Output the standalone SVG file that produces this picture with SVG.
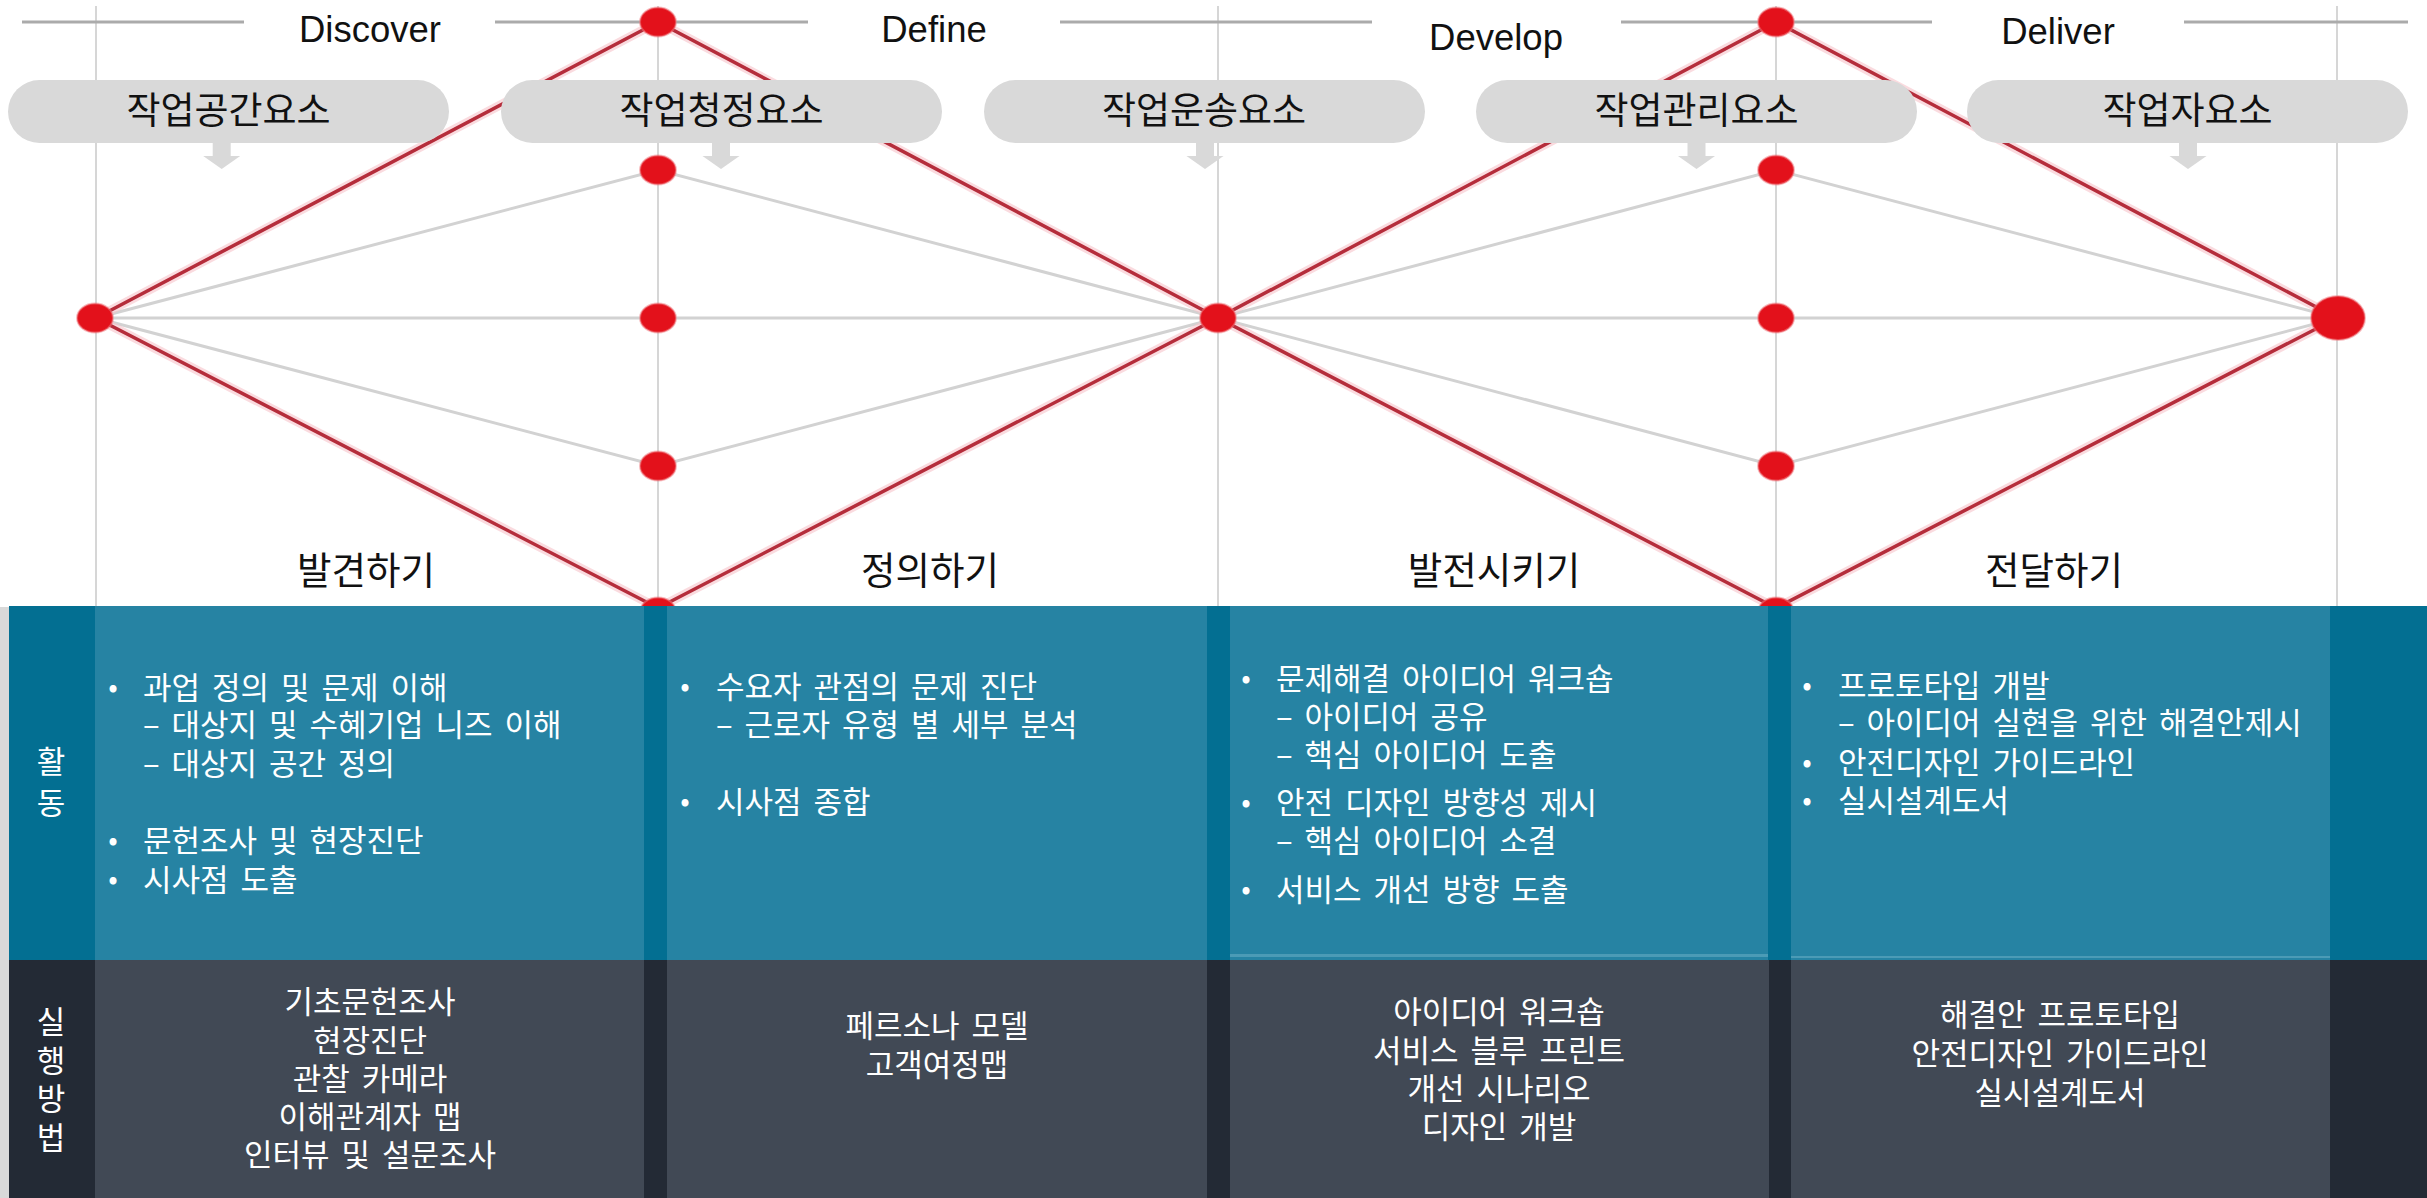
<svg xmlns="http://www.w3.org/2000/svg" width="2427" height="1198" viewBox="0 0 2427 1198">
<defs>
<style>
.kr{font-family:"Noto Sans CJK KR","Noto Sans",sans-serif;}
.en{font-family:"Liberation Sans",Arial,sans-serif;font-size:36.5px;fill:#111;text-anchor:middle;}
.box{fill:#d9d9d9;}
.arrow{fill:#d9d9d9;}
.lbl{font-size:37px;fill:#111;text-anchor:middle;}
.phase{font-size:37.5px;fill:#111;text-anchor:middle;}
.vline{stroke:#d6d6d6;stroke-width:2;fill:none;}
.hline{stroke:#ababab;stroke-width:3;fill:none;}
.gline{stroke:#d2d2d2;stroke-width:3;fill:none;}
.rglow{stroke:#f6c3ca;stroke-width:9;fill:none;opacity:0.6;stroke-linejoin:round;}
.rline{stroke:#b52d3b;stroke-width:3.5;fill:none;stroke-linejoin:round;}
.dot{fill:#e3111b;stroke:#f07a80;stroke-width:2;stroke-opacity:0.5;}
.cell{font-size:31px;fill:#ffffff;word-spacing:5px;}
.ctr{font-size:31px;fill:#ffffff;text-anchor:middle;word-spacing:5px;}
.bul{font-size:28px;fill:#ffffff;text-anchor:middle;}
</style>
</defs>
<rect x="0" y="0" width="2427" height="1198" fill="#ffffff"/>

<g id="grid">
<line class="vline" x1="96" y1="6" x2="96" y2="606"/>
<line class="vline" x1="658" y1="6" x2="658" y2="606"/>
<line class="vline" x1="1218" y1="6" x2="1218" y2="606"/>
<line class="vline" x1="1776" y1="6" x2="1776" y2="606"/>
<line class="vline" x1="2337" y1="6" x2="2337" y2="606"/>
<line class="hline" x1="22" y1="22" x2="244" y2="22"/>
<line class="hline" x1="495" y1="22" x2="808" y2="22"/>
<line class="hline" x1="1060" y1="22" x2="1372" y2="22"/>
<line class="hline" x1="1621" y1="22" x2="1932" y2="22"/>
<line class="hline" x1="2184" y1="22" x2="2408" y2="22"/>
</g>

<g id="phase-titles">
<text class="en" x="370" y="42">Discover</text>
<text class="en" x="934" y="42">Define</text>
<text class="en" x="1496" y="50">Develop</text>
<text class="en" x="2058" y="44">Deliver</text>
</g>

<g id="connectors">
<line class="gline" x1="96" y1="318" x2="2337" y2="318"/>
<polyline class="gline" points="96,318 658,170 1218,318 658,466 96,318"/>
<polyline class="gline" points="1218,318 1776,170 2337,318 1776,466 1218,318"/>
<polygon class="rglow" points="96,318 658,22 1218,318 658,608"/>
<polygon class="rglow" points="1218,318 1776,22 2337,318 1776,608"/>
<polygon class="rline" points="96,318 658,22 1218,318 658,608"/>
<polygon class="rline" points="1218,318 1776,22 2337,318 1776,608"/>
</g>

<g id="nodes">
<ellipse id="n-start" class="dot" cx="95" cy="318" rx="18" ry="14.5"/>
<ellipse id="n-d1-top" class="dot" cx="658" cy="22" rx="18" ry="14.5"/>
<ellipse id="n-d1-upper" class="dot" cx="658" cy="170" rx="18" ry="14.5"/>
<ellipse id="n-d1-mid" class="dot" cx="658" cy="318" rx="18" ry="14.5"/>
<ellipse id="n-d1-lower" class="dot" cx="658" cy="466" rx="18" ry="14.5"/>
<ellipse id="n-d1-bottom" class="dot" cx="658" cy="612" rx="18" ry="14.5"/>
<ellipse id="n-center" class="dot" cx="1218" cy="318" rx="18" ry="14.5"/>
<ellipse id="n-d2-top" class="dot" cx="1776" cy="22" rx="18" ry="14.5"/>
<ellipse id="n-d2-upper" class="dot" cx="1776" cy="170" rx="18" ry="14.5"/>
<ellipse id="n-d2-mid" class="dot" cx="1776" cy="318" rx="18" ry="14.5"/>
<ellipse id="n-d2-lower" class="dot" cx="1776" cy="466" rx="18" ry="14.5"/>
<ellipse id="n-d2-bottom" class="dot" cx="1776" cy="612" rx="18" ry="14.5"/>
<ellipse id="n-end" class="dot" cx="2338" cy="318" rx="27" ry="22"/>
</g>

<g id="element-boxes">
<g id="box-space">
<rect class="box" x="8" y="80" width="441" height="63" rx="31.5"/>
<path class="arrow" d="M212.7,142 h18 v14 h9.5 l-18.5,13 l-18.5,-13 h9.5 z"/>
<text class="kr lbl" x="228.5" y="123.5">작업공간요소</text>
</g>
<g id="box-sound">
<rect class="box" x="501" y="80" width="441" height="63" rx="31.5"/>
<path class="arrow" d="M712,142 h18 v14 h9.5 l-18.5,13 l-18.5,-13 h9.5 z"/>
<text class="kr lbl" x="721.5" y="123.5">작업청정요소</text>
</g>
<g id="box-transport">
<rect class="box" x="984" y="80" width="441" height="63" rx="31.5"/>
<path class="arrow" d="M1196,142 h18 v14 h9.5 l-18.5,13 l-18.5,-13 h9.5 z"/>
<text class="kr lbl" x="1204" y="123.5">작업운송요소</text>
</g>
<g id="box-manage">
<rect class="box" x="1476" y="80" width="441" height="63" rx="31.5"/>
<path class="arrow" d="M1687.5,142 h18 v14 h9.5 l-18.5,13 l-18.5,-13 h9.5 z"/>
<text class="kr lbl" x="1696.5" y="123.5">작업관리요소</text>
</g>
<g id="box-worker">
<rect class="box" x="1967" y="80" width="441" height="63" rx="31.5"/>
<path class="arrow" d="M2179,142 h18 v14 h9.5 l-18.5,13 l-18.5,-13 h9.5 z"/>
<text class="kr lbl" x="2187.5" y="123.5">작업자요소</text>
</g>
</g>

<g id="phase-labels">
<text class="kr phase" x="366" y="584">발견하기</text>
<text class="kr phase" x="930" y="584">정의하기</text>
<text class="kr phase" x="1494" y="584">발전시키기</text>
<text class="kr phase" x="2054" y="584">전달하기</text>
</g>

<g id="table">
<rect x="0" y="607" width="9" height="591" fill="#d9d9d9"/>
<rect x="9" y="606" width="2418" height="354" fill="#036f92"/>
<rect x="95" y="606" width="549" height="354" fill="#2683a3"/>
<rect x="667" y="606" width="540" height="354" fill="#2683a3"/>
<rect x="1230" y="606" width="538" height="354" fill="#2683a3"/>
<rect x="1791" y="606" width="539" height="354" fill="#2683a3"/>
<rect x="1230" y="954" width="538" height="3" fill="#4b9bb6"/>
<rect x="1791" y="956" width="539" height="2" fill="#4b9bb6"/>
<rect x="9" y="960" width="2418" height="238" fill="#232a35"/>
<rect x="95" y="960" width="549" height="238" fill="#414955"/>
<rect x="667" y="960" width="540" height="238" fill="#414955"/>
<rect x="1230" y="960" width="539" height="238" fill="#414955"/>
<rect x="1791" y="960" width="539" height="238" fill="#414955"/>
</g>

<g id="row-headers">
<text class="kr ctr" x="51" y="773">활</text>
<text class="kr ctr" x="51" y="814">동</text>
<text class="kr ctr" x="51" y="1033">실</text>
<text class="kr ctr" x="51" y="1072">행</text>
<text class="kr ctr" x="51" y="1110">방</text>
<text class="kr ctr" x="51" y="1149">법</text>
</g>

<g id="activity-discover">
<text class="kr bul" x="113" y="697">•</text>
<text class="kr cell" x="143" y="699">과업 정의 및 문제 이해</text>
<text class="kr cell" x="143" y="736">– 대상지 및 수혜기업 니즈 이해</text>
<text class="kr cell" x="143" y="775">– 대상지 공간 정의</text>
<text class="kr bul" x="113" y="850">•</text>
<text class="kr cell" x="143" y="852">문헌조사 및 현장진단</text>
<text class="kr bul" x="113" y="889">•</text>
<text class="kr cell" x="143" y="891">시사점 도출</text>
</g>

<g id="activity-define">
<text class="kr bul" x="685" y="696">•</text>
<text class="kr cell" x="716" y="698">수요자 관점의 문제 진단</text>
<text class="kr cell" x="716" y="736">– 근로자 유형 별 세부 분석</text>
<text class="kr bul" x="685" y="811">•</text>
<text class="kr cell" x="716" y="813">시사점 종합</text>
</g>

<g id="activity-develop">
<text class="kr bul" x="1246" y="688">•</text>
<text class="kr cell" x="1276" y="690">문제해결 아이디어 워크숍</text>
<text class="kr cell" x="1276" y="728">– 아이디어 공유</text>
<text class="kr cell" x="1276" y="766">– 핵심 아이디어 도출</text>
<text class="kr bul" x="1246" y="812">•</text>
<text class="kr cell" x="1276" y="814">안전 디자인 방향성 제시</text>
<text class="kr cell" x="1276" y="852">– 핵심 아이디어 소결</text>
<text class="kr bul" x="1246" y="899">•</text>
<text class="kr cell" x="1276" y="901">서비스 개선 방향 도출</text>
</g>

<g id="activity-deliver">
<text class="kr bul" x="1807" y="695">•</text>
<text class="kr cell" x="1838" y="697">프로토타입 개발</text>
<text class="kr cell" x="1838" y="734">– 아이디어 실현을 위한 해결안제시</text>
<text class="kr bul" x="1807" y="772">•</text>
<text class="kr cell" x="1838" y="774">안전디자인 가이드라인</text>
<text class="kr bul" x="1807" y="810">•</text>
<text class="kr cell" x="1838" y="812">실시설계도서</text>
</g>

<g id="method-discover">
<text class="kr ctr" x="370" y="1013">기초문헌조사</text>
<text class="kr ctr" x="370" y="1052">현장진단</text>
<text class="kr ctr" x="370" y="1090">관찰 카메라</text>
<text class="kr ctr" x="370" y="1128">이해관계자 맵</text>
<text class="kr ctr" x="370" y="1166">인터뷰 및 설문조사</text>
</g>

<g id="method-define">
<text class="kr ctr" x="937" y="1037">페르소나 모델</text>
<text class="kr ctr" x="937" y="1076">고객여정맵</text>
</g>

<g id="method-develop">
<text class="kr ctr" x="1499" y="1023">아이디어 워크숍</text>
<text class="kr ctr" x="1499" y="1062">서비스 블루 프린트</text>
<text class="kr ctr" x="1499" y="1100">개선 시나리오</text>
<text class="kr ctr" x="1499" y="1138">디자인 개발</text>
</g>

<g id="method-deliver">
<text class="kr ctr" x="2060" y="1026">해결안 프로토타입</text>
<text class="kr ctr" x="2060" y="1065">안전디자인 가이드라인</text>
<text class="kr ctr" x="2060" y="1104">실시설계도서</text>
</g>
</svg>
